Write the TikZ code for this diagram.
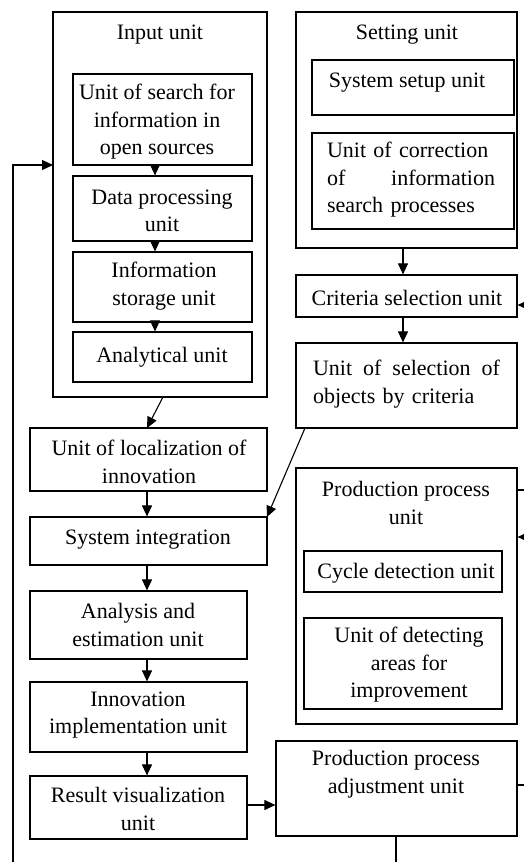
\documentclass[tikz,border=0pt]{standalone}
\usepackage{fontspec}
\setmainfont{Liberation Serif}
\usetikzlibrary{arrows.meta}
\begin{document}
\begin{tikzpicture}[x=1pt,y=-1pt,
  box/.style={draw, line width=1.2pt, inner sep=0pt},
  txt/.style={inner sep=0pt, align=center, font=\fontsize{22}{27.5}\selectfont},
  arr/.style={line width=1.1pt, -{Triangle[length=11pt,width=10pt]}},
  ln/.style={line width=1.1pt}]
\useasboundingbox (0,0) rectangle (524,862);
\fill[white] (0,0) rectangle (524,862);
% boxes
\node[box, minimum width=214pt, minimum height=385pt] (inp) at (160,204.5) {};
\node[box, minimum width=179pt, minimum height=91pt] (srch) at (162.5,119.5) {};
\node[box, minimum width=179pt, minimum height=65pt] (dproc) at (162.5,208.5) {};
\node[box, minimum width=179pt, minimum height=70pt] (stor) at (162.5,287) {};
\node[box, minimum width=179pt, minimum height=50pt] (anal) at (162.5,357) {};
\node[box, minimum width=221pt, minimum height=236pt] (sett) at (406.5,130) {};
\node[box, minimum width=202pt, minimum height=55pt] (setup) at (413,87.5) {};
\node[box, minimum width=202pt, minimum height=96pt] (corr) at (413,181) {};
\node[box, minimum width=221pt, minimum height=42pt] (crit) at (406.5,296) {};
\node[box, minimum width=221pt, minimum height=85pt] (sel) at (406.5,385.5) {};
\node[box, minimum width=237pt, minimum height=63pt] (loc) at (148.5,459.5) {};
\node[box, minimum width=237pt, minimum height=48pt] (sint) at (148.5,541) {};
\node[box, minimum width=217pt, minimum height=68pt] (anest) at (138.5,625) {};
\node[box, minimum width=217pt, minimum height=70pt] (impl) at (138.5,717) {};
\node[box, minimum width=217pt, minimum height=63pt] (resv) at (138.5,807.5) {};
\node[box, minimum width=221pt, minimum height=256pt] (ppu) at (406.5,596) {};
\node[box, minimum width=198pt, minimum height=41pt] (cyc) at (403,571.5) {};
\node[box, minimum width=198pt, minimum height=91pt] (det) at (403,663.5) {};
\node[box, minimum width=241pt, minimum height=95pt] (adj) at (396.5,788.5) {};
% texts
\node[txt] (tinp) at (160,35) {Input unit};
\node[txt] (tsrch) at (157,122) {Unit of search for\\information in\\open sources};
\node[txt] (tdproc) at (162,211) {Data processing\\unit};
\node[txt] (tstor) at (164,286) {Information\\storage unit};
\node[txt] (tanal) at (162,357) {Analytical unit};
\node[txt] (tsett) at (407,35) {Setting unit};
\node[txt] (tsetup) at (407,83) {System setup unit};
\node[txt, text width=168pt, align=left] (tcorr) at (411,180) {\hyphenpenalty=10000 Unit of correction\\of\hfill information\\search processes};
\node[txt, text width=187pt, align=left] (tsel) at (406.5,384) {Unit\hfill of\hfill selection\hfill of\\objects by criteria};
\node[txt] (tcrit) at (407,298) {Criteria selection unit};
\node[txt] (tloc) at (149,462) {Unit of localization of\\innovation};
\node[txt] (tsint) at (148,540) {System integration};
\node[txt] (tanest) at (138,625) {Analysis and\\estimation unit};
\node[txt] (timpl) at (138,715) {Innovation\\implementation unit};
\node[txt] (tresv) at (138,809) {Result visualization\\unit};
\node[txt] (tppu) at (406,503) {Production process\\unit};
\node[txt] (tcyc) at (406,573) {Cycle detection unit};
\node[txt] (tdet) at (409,665) {Unit of detecting\\areas for\\improvement};
\node[txt] (tadj) at (396,774) {Production process\\adjustment unit};
% helper coordinates
\coordinate (ax) at (155,0);
\coordinate (bx) at (147,0);
\coordinate (cx) at (403,0);
\coordinate (fbot) at (13,862);
\coordinate (fcorner) at (13,165);
\coordinate (inpw) at (53,165);
\coordinate (abot) at (396,862);
\coordinate (rcrit) at (524,305);
\coordinate (rppu) at (524,490);
\coordinate (rppuin) at (524,537);
\coordinate (radj) at (524,785);
\coordinate (inpsrc) at (163,397);
\coordinate (loctgt) at (147,428);
\coordinate (selsrc) at (305,428);
\coordinate (sinttgt) at (267,517);
% connectors
\draw[arr] (srch.south -| ax) -- (dproc.north -| ax);
\draw[arr] (dproc.south -| ax) -- (stor.north -| ax);
\draw[arr] (stor.south -| ax) -- (anal.north -| ax);
\draw[arr] (inpsrc) -- (loctgt);
\draw[arr] (sett.south -| cx) -- (crit.north -| cx);
\draw[arr] (crit.south -| cx) -- (sel.north -| cx);
\draw[arr] (selsrc) -- (sinttgt);
\draw[arr] (loc.south -| bx) -- (sint.north -| bx);
\draw[arr] (sint.south -| bx) -- (anest.north -| bx);
\draw[arr] (anest.south -| bx) -- (impl.north -| bx);
\draw[arr] (impl.south -| bx) -- (resv.north -| bx);
\draw[arr] (resv.east |- 0,805) -- (adj.west |- 0,805);
\draw[arr] (fbot) -- (fcorner) -- (inpw);
\draw[ln] (adj.south -| abot) -- (abot);
\draw[arr] (rcrit) -- (crit.east |- rcrit);
\draw[ln] (ppu.east |- rppu) -- (rppu);
\draw[arr] (rppuin) -- (ppu.east |- rppuin);
\draw[ln] (adj.east |- radj) -- (radj);
\end{tikzpicture}
\end{document}
